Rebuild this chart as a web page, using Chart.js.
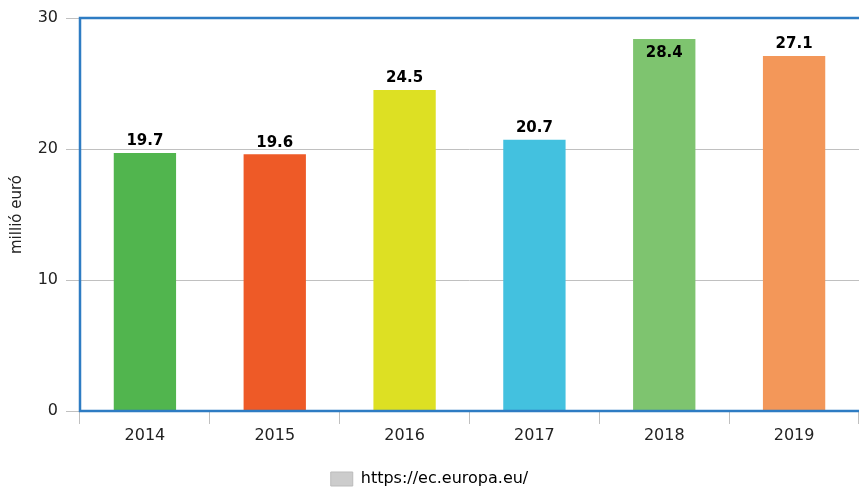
<!DOCTYPE html>
<html>
<head>
<meta charset="utf-8">
<script src="https://cdn.jsdelivr.net/npm/chart.js@4"></script>
<style>
  html, body { margin: 0; padding: 0; background: #fff; }
  #wrap { width: 859px; height: 490px; }
</style>
</head>
<body>
<div id="wrap"><canvas id="c"></canvas></div>
<script>
const years = ['2014', '2015', '2016', '2017', '2018', '2019'];
const values = [19.7, 19.6, 24.5, 20.7, 28.4, 27.1];
const barColors = ['#51b54e', '#ee5a27', '#dde023', '#43c1df', '#7ec46f', '#f39759'];
const yTicks = [0, 10, 20, 30];
const sourceLabel = 'https://ec.europa.eu/';

const FONT = "'DejaVu Sans', sans-serif";

// value labels above each bar, pushed inside when they hit the top
const valueLabels = {
  id: 'valueLabels',
  afterDatasetsDraw(chart) {
    const ctx = chart.ctx;
    const meta = chart.getDatasetMeta(0);
    ctx.save();
    ctx.font = 'bold 15px ' + FONT;
    ctx.fillStyle = '#000';
    ctx.textAlign = 'center';
    meta.data.forEach((bar, i) => {
      const txt = values[i].toFixed(1);
      if (bar.y - 22 < chart.chartArea.top) {
        ctx.textBaseline = 'top';
        ctx.fillText(txt, bar.x, bar.y + 7);
      } else {
        ctx.textBaseline = 'bottom';
        ctx.fillText(txt, bar.x, bar.y - 4);
      }
    });
    ctx.restore();
  }
};

// blue frame on top, left and bottom of the plot
const frame = {
  id: 'frame',
  afterDatasetsDraw(chart) {
    const { left, right, top, bottom } = chart.chartArea;
    const ctx = chart.ctx;
    ctx.save();
    ctx.strokeStyle = '#2e7cc3';
    ctx.lineWidth = 2.5;
    ctx.beginPath();
    ctx.moveTo(right + 2, top);
    ctx.lineTo(left, top);
    ctx.lineTo(left, bottom);
    ctx.lineTo(right + 2, bottom);
    ctx.stroke();
    ctx.restore();
  }
};

new Chart(document.getElementById('c'), {
  type: 'bar',
  data: {
    labels: years,
    datasets: [{
      label: sourceLabel,
      data: values,
      backgroundColor: barColors,
      categoryPercentage: 1,
      barPercentage: 0.48
    }]
  },
  options: {
    responsive: true,
    maintainAspectRatio: false,
    animation: false,
    layout: { padding: { top: 18, right: 0, bottom: -7, left: 0 } },
    plugins: {
      tooltip: { enabled: false },
      legend: {
        position: 'bottom',
        onClick: null,
        labels: {
          font: { family: FONT, size: 16 },
          color: '#222',
          boxWidth: 22,
          boxHeight: 14,
          padding: 2,
          generateLabels: () => [{
            text: sourceLabel,
            fillStyle: '#cccccc',
            strokeStyle: '#bbbbbb',
            lineWidth: 1,
            hidden: false,
            datasetIndex: 0
          }]
        }
      }
    },
    scales: {
      x: {
        afterFit: s => { s.height = 58; },
        grid: {
          display: true,
          drawOnChartArea: false,
          offset: true,
          color: '#c0c0c0',
          tickLength: 13
        },
        border: { display: false },
        ticks: {
          font: { family: FONT, size: 16 },
          color: '#222',
          padding: 2
        }
      },
      y: {
        min: 0,
        max: 30,
        afterFit: s => { s.width = 80; },
        afterBuildTicks: s => { s.ticks = yTicks.map(v => ({ value: v })); },
        title: {
          display: true,
          text: 'millió euró',
          font: { family: FONT, size: 15 },
          color: '#222',
          padding: { top: 8, bottom: 0 }
        },
        grid: {
          color: '#c0c0c0',
          tickLength: 14,
          drawTicks: true
        },
        border: { display: false },
        ticks: {
          font: { family: FONT, size: 16 },
          color: '#222',
          padding: 8
        }
      }
    }
  },
  plugins: [valueLabels, frame]
});
</script>
</body>
</html>
